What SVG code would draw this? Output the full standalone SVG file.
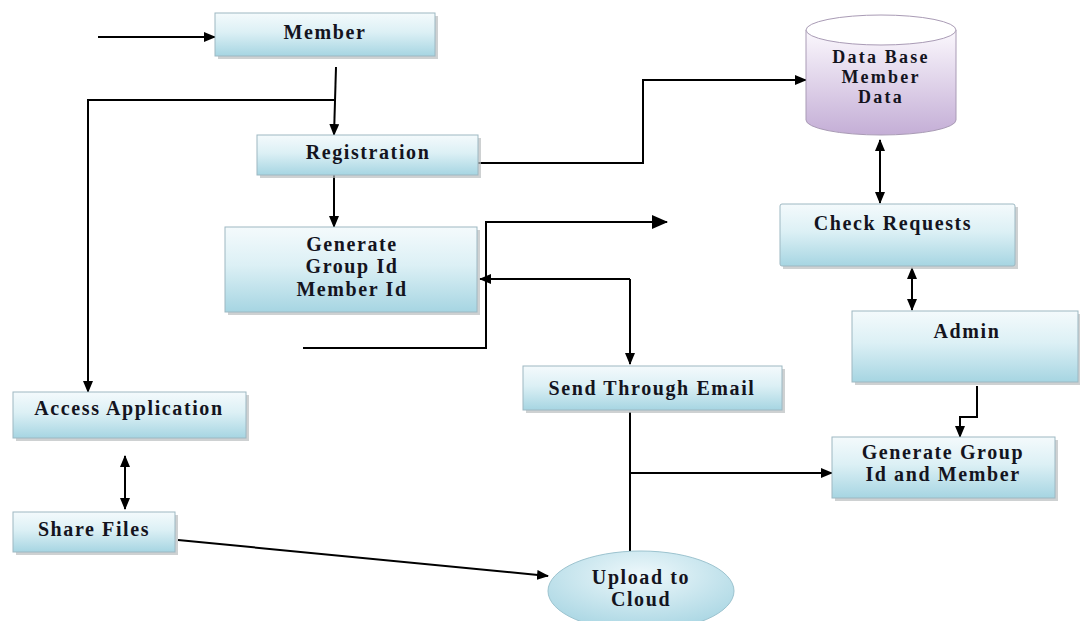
<svg xmlns="http://www.w3.org/2000/svg" width="1080" height="621" viewBox="0 0 1080 621">
<style>
.box{fill:url(#blue);stroke:#9db8c2;stroke-width:1}
.shadow{fill:#b9bdbf;opacity:0.7}
.lbl{font-family:"Liberation Serif","Times New Roman",serif;font-weight:bold;font-size:20px;letter-spacing:1.6px;fill:#14141e;text-anchor:middle}
.lbl.db{font-size:18px;letter-spacing:2.2px}
.wire{fill:none;stroke:#000;stroke-width:2}
</style>
<defs>
<linearGradient id="blue" x1="0" y1="0" x2="0" y2="1">
<stop offset="0" stop-color="#f4fafc"/>
<stop offset="0.45" stop-color="#dcf0f5"/>
<stop offset="1" stop-color="#a6d5e2"/>
</linearGradient>
<linearGradient id="purple" x1="0" y1="0" x2="0" y2="1">
<stop offset="0" stop-color="#fbf8fd"/>
<stop offset="1" stop-color="#c4aed6"/>
</linearGradient>
<radialGradient id="oval" cx="0.5" cy="0.3" r="0.7">
<stop offset="0" stop-color="#eef8fb"/>
<stop offset="1" stop-color="#a9d6e3"/>
</radialGradient>
<marker id="ah" markerWidth="12" markerHeight="10" refX="11" refY="5" orient="auto" markerUnits="userSpaceOnUse">
<path d="M0,0 L12,5 L0,10 Z" fill="#000"/>
</marker>
<marker id="as" markerWidth="12" markerHeight="10" refX="1" refY="5" orient="auto" markerUnits="userSpaceOnUse">
<path d="M12,0 L0,5 L12,10 Z" fill="#000"/>
</marker>
<marker id="big" markerWidth="16" markerHeight="14" refX="15" refY="7" orient="auto" markerUnits="userSpaceOnUse">
<path d="M0,0 L16,7 L0,14 Z" fill="#000"/>
</marker>
</defs>
<rect width="1080" height="621" fill="#fff"/>

<g id="connectors">
<line class="wire" x1="98" y1="37" x2="215" y2="37" marker-end="url(#ah)"/>
<line class="wire" x1="336" y1="67" x2="334" y2="135" marker-end="url(#ah)"/>
<polyline class="wire" points="334,100 88,100 88,392" marker-end="url(#ah)"/>
<line class="wire" x1="334" y1="175" x2="334" y2="227" marker-end="url(#ah)"/>
<polyline class="wire" points="478,163 643,163 643,80 806,80" marker-end="url(#ah)"/>
<polyline class="wire" points="303,348 486,348 486,222 667,222" marker-end="url(#big)"/>
<polyline class="wire" points="630,279 480,279" marker-end="url(#ah)"/>
<polyline class="wire" points="630,279 630,364" marker-end="url(#ah)"/>
<line class="wire" x1="630" y1="412" x2="630" y2="551"/>
<line class="wire" x1="630" y1="473" x2="832" y2="473" marker-end="url(#ah)"/>
<line class="wire" x1="125" y1="456" x2="125" y2="509" marker-start="url(#as)" marker-end="url(#ah)"/>
<line class="wire" x1="178" y1="540" x2="548" y2="576" marker-end="url(#ah)"/>
<line class="wire" x1="880" y1="140" x2="880" y2="203" marker-start="url(#as)" marker-end="url(#ah)"/>
<line class="wire" x1="912" y1="268" x2="912" y2="310" marker-start="url(#as)" marker-end="url(#ah)"/>
<polyline class="wire" points="977,386 977,417 960,417 960,437" marker-end="url(#ah)"/>
</g>

<g id="member">
<rect class="shadow" x="218" y="16" width="220" height="43"/>
<rect class="box" x="215" y="13" width="220" height="43"/>
<text class="lbl" x="325" y="39">Member</text>
</g>

<g id="registration">
<rect class="shadow" x="260" y="138" width="221" height="40"/>
<rect class="box" x="257" y="135" width="221" height="40"/>
<text class="lbl" x="368" y="159">Registration</text>
</g>

<g id="generate-ids">
<rect class="shadow" x="228" y="230" width="252" height="85"/>
<rect class="box" x="225" y="227" width="252" height="85"/>
<text class="lbl" x="352" y="251">Generate</text>
<text class="lbl" x="352" y="273">Group Id</text>
<text class="lbl" x="352" y="296">Member Id</text>
</g>

<g id="access-application">
<rect class="shadow" x="16" y="395" width="233" height="46"/>
<rect class="box" x="13" y="392" width="233" height="46"/>
<text class="lbl" x="129" y="415">Access Application</text>
</g>

<g id="share-files">
<rect class="shadow" x="16" y="515" width="162" height="40"/>
<rect class="box" x="13" y="512" width="162" height="40"/>
<text class="lbl" x="94" y="536">Share Files</text>
</g>

<g id="send-email">
<rect class="shadow" x="526" y="369" width="259" height="44"/>
<rect class="box" x="523" y="366" width="259" height="44"/>
<text class="lbl" x="652" y="395">Send Through Email</text>
</g>

<g id="upload-cloud">
<ellipse cx="641" cy="591" rx="93" ry="40" fill="url(#oval)" stroke="#9cc3cf" stroke-width="1"/>
<text class="lbl" x="641" y="584">Upload to</text>
<text class="lbl" x="641" y="606">Cloud</text>
</g>

<g id="database">
<path d="M806,30 L806,120 A75,15 0 0 0 956,120 L956,30 Z" fill="url(#purple)" stroke="#a99bb5" stroke-width="1"/>
<ellipse cx="881" cy="30" rx="75" ry="15" fill="#fff" stroke="#a99bb5" stroke-width="1"/>
<text class="lbl db" x="881" y="63">Data Base</text>
<text class="lbl db" x="881" y="83">Member</text>
<text class="lbl db" x="881" y="103">Data</text>
</g>

<g id="check-requests">
<rect class="shadow" x="783" y="207" width="235" height="62"/>
<rect class="box" x="780" y="204" width="235" height="62" rx="2"/>
<text class="lbl" x="893" y="230">Check Requests</text>
</g>

<g id="admin">
<rect class="shadow" x="855" y="314" width="225" height="71"/>
<rect class="box" x="852" y="311" width="226" height="71"/>
<text class="lbl" x="967" y="338">Admin</text>
</g>

<g id="generate-group-member">
<rect class="shadow" x="835" y="440" width="223" height="61"/>
<rect class="box" x="832" y="437" width="223" height="61"/>
<text class="lbl" x="943" y="459">Generate Group</text>
<text class="lbl" x="943" y="481">Id and Member</text>
</g>
</svg>
